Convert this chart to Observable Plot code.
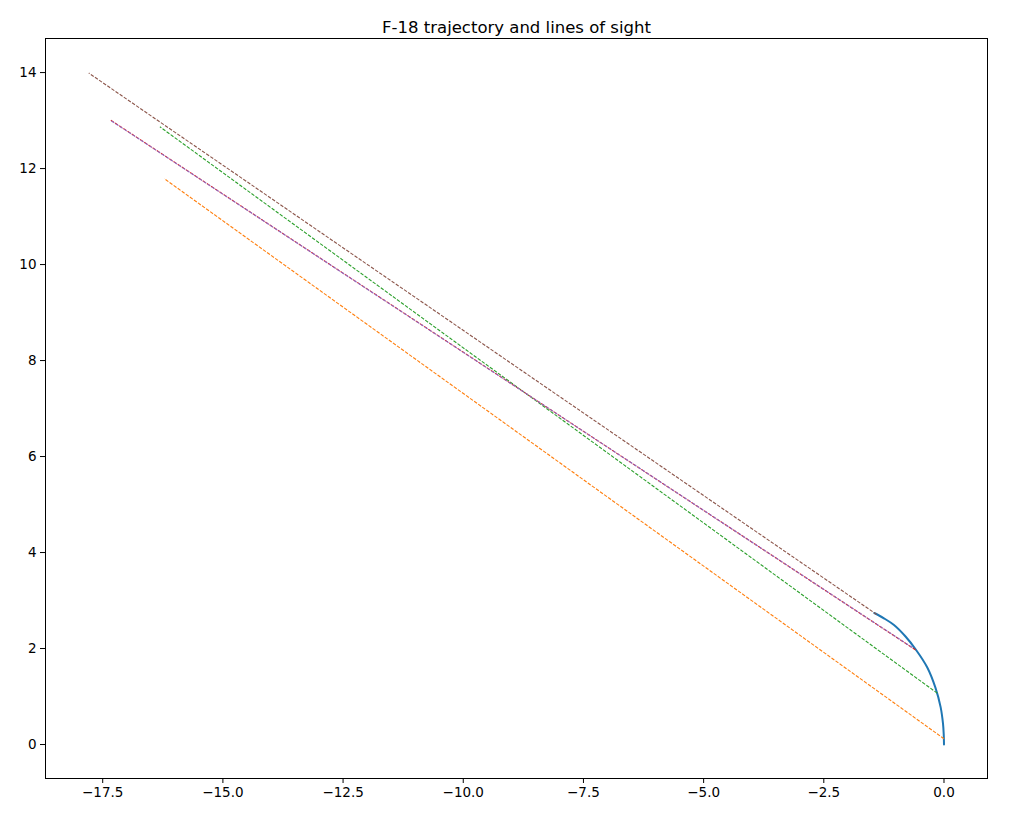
<!DOCTYPE html>
<html>
<head>
<meta charset="utf-8">
<script src="https://cdn.jsdelivr.net/npm/d3@7"></script>
<script src="https://cdn.jsdelivr.net/npm/@observablehq/plot@0.6"></script>
<style>
  body { margin: 0; background: white; }
</style>
</head>
<body>
<div id="chart"></div>
<script>
// F-18 path (x, y)
const trajX = [0, -0.005, -0.02, -0.07, -0.18, -0.35, -0.58, -0.80, -1.04, -1.25, -1.45];
const trajY = [0, 0.2, 0.43, 0.78, 1.19, 1.61, 1.97, 2.25, 2.49, 2.63, 2.74];

// lines of sight: start on the path, end far up-left
const sightColors = ["#ff7f0e", "#2ca02c", "#d62728", "#9467bd", "#8c564b"];
const sightX1 = [0, -0.14, -0.59, -0.66, -1.40];
const sightY1 = [0.12, 1.07, 1.97, 2.02, 2.71];
const sightX2 = [-16.22, -16.31, -17.35, -17.33, -17.79];
const sightY2 = [11.79, 12.87, 13.02, 13.0, 13.99];

const xTicks = [-17.5, -15, -12.5, -10, -7.5, -5, -2.5, 0];
const yTicks = [0, 2, 4, 6, 8, 10, 12, 14];

const traj = trajX.map((x, i) => ({x, y: trajY[i]}));
const sights = sightColors.map((c, i) => ({
  c, x1: sightX1[i], y1: sightY1[i], x2: sightX2[i], y2: sightY2[i]
}));

const chart = Plot.plot({
  width: 1009,
  height: 825,
  marginLeft: 45,
  marginRight: 22,
  marginTop: 38,
  marginBottom: 47,
  style: {
    fontFamily: "DejaVu Sans",
    fontSize: "13px",
    color: "black",
    background: "white"
  },
  x: {domain: [-18.69, 0.905]},
  y: {domain: [-0.708, 14.71]},
  marks: [
    Plot.line(traj, {x: "x", y: "y", stroke: "#1f77b4", strokeWidth: 2, curve: "catmull-rom"}),
    ...sights.map(s => Plot.link([s], {
      x1: "x1", y1: "y1", x2: "x2", y2: "y2",
      stroke: s.c, strokeWidth: 1.1, strokeDasharray: "3.5,1.5"
    })),
    Plot.frame({stroke: "black", strokeWidth: 1}),
    Plot.axisX({ticks: xTicks, tickFormat: d3.format(".1f"), tickSize: 5, tickPadding: 4, label: null, fontSize: 13.5}),
    Plot.axisY({ticks: yTicks, tickFormat: d3.format("d"), tickSize: 5, tickPadding: 4, label: null, fontSize: 13.5}),
    Plot.text(["F-18 trajectory and lines of sight"], {
      frameAnchor: "top", dy: -17, fontSize: 16.5, fill: "black", text: d => d
    })
  ]
});

d3.select("#chart").append(() => chart);
</script>
</body>
</html>
